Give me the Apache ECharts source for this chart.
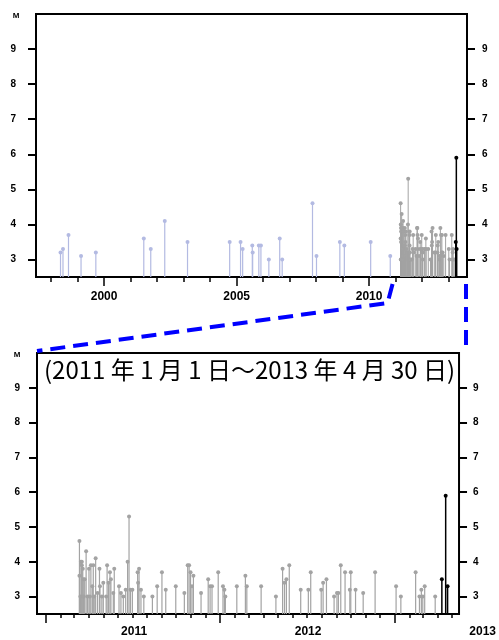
<!DOCTYPE html>
<html><head><meta charset="utf-8">
<script src="https://cdn.jsdelivr.net/npm/echarts@6/dist/echarts.min.js"></script>
<style>html,body{margin:0;padding:0;background:#fff}#c{width:499px;height:640px}</style>
</head><body><div id="c"></div>
<script>
// ---- data ----
const preDates = ['1998-05-10','1998-06-13','1998-08-28','1999-02-17','1999-09-09','2001-07-01','2001-10-05','2002-04-16','2003-02-24','2004-09-27','2005-02-24','2005-03-25','2005-08-05','2005-08-10','2005-11-03','2005-12-02','2006-03-21','2006-08-18','2006-09-21','2007-11-13','2008-01-07','2008-11-24','2009-01-25','2010-01-23','2010-10-20'];
const preMags = [3.2,3.3,3.7,3.1,3.2,3.6,3.3,4.1,3.5,3.5,3.5,3.3,3.4,3.2,3.4,3.4,3.0,3.6,3.0,4.6,3.1,3.5,3.4,3.5,3.1];

const recentDates = ['2011-03-12','2011-03-12','2011-03-14','2011-03-15','2011-03-17','2011-03-17','2011-03-19','2011-03-20','2011-03-21','2011-03-23','2011-03-26','2011-03-29','2011-04-01','2011-04-03','2011-04-05','2011-04-08','2011-04-10','2011-04-12','2011-04-15','2011-04-19','2011-04-23','2011-04-24','2011-04-28','2011-05-01','2011-05-07','2011-05-09','2011-05-12','2011-05-15','2011-05-17','2011-05-22','2011-05-24','2011-06-03','2011-06-07','2011-06-12','2011-06-17','2011-06-21','2011-06-24','2011-06-27','2011-07-01','2011-07-12','2011-07-13','2011-07-15','2011-07-19','2011-07-25','2011-08-12','2011-08-22','2011-09-01','2011-09-09','2011-09-30','2011-10-18','2011-10-25','2011-10-28','2011-10-31','2011-11-03','2011-11-06','2011-11-22','2011-12-07','2011-12-11','2011-12-15','2011-12-28','2012-01-07','2012-01-10','2012-01-12','2012-02-05','2012-02-23','2012-02-26','2012-03-27','2012-04-27','2012-05-11','2012-05-15','2012-05-19','2012-05-25','2012-06-18','2012-07-04','2012-07-09','2012-07-31','2012-08-04','2012-08-11','2012-08-27','2012-09-02','2012-09-05','2012-09-10','2012-09-19','2012-09-29','2012-10-01','2012-10-11','2012-10-27','2012-11-21','2013-01-04','2013-01-14','2013-02-14','2013-02-22','2013-02-26','2013-03-01','2013-03-05','2013-03-27','2013-04-10','2013-04-18','2013-04-22'];
const recentMags = [4.6,3.6,3.0,4.0,4.0,3.9,3.8,3.5,3.0,3.5,4.3,3.0,3.8,3.0,3.9,3.3,3.9,3.0,4.1,3.1,3.8,3.3,3.0,3.4,3.0,3.9,3.4,3.7,3.5,3.1,3.8,3.3,3.1,3.0,3.2,4.0,5.3,3.2,3.2,3.7,3.4,3.8,3.2,3.0,3.0,3.3,3.7,3.2,3.3,3.1,3.9,3.9,3.7,3.3,3.6,3.1,3.5,3.3,3.3,3.7,3.3,3.2,3.0,3.3,3.6,3.3,3.3,3.0,3.8,3.4,3.5,3.9,3.2,3.2,3.7,3.2,3.4,3.5,3.0,3.1,3.1,3.9,3.7,3.2,3.7,3.2,3.1,3.7,3.3,3.0,3.7,3.0,3.2,3.0,3.3,3.0,3.5,5.9,3.3];

const lastMonthStart = '2013-04-01';
const topRange = ['1997-06-06', '2013-09-12'];
const bottomRange = ['2010-12-13', '2013-05-16'];
const topTickYears = [1998,1999,2000,2001,2002,2003,2004,2005,2006,2007,2008,2009,2010,2011,2012,2013];
const topLabelYears = [2000, 2005, 2010];
const bottomYears = [2011, 2012, 2013];
const magTicks = [3,4,5,6,7,8,9];
const magRange = [2.5, 10];
const titleText = '(2011 年 1 月 1 日～2013 年 4 月 30 日)';

// ---- helpers ----
const ts = s => { const p = s.split('-').map(Number); return +new Date(p[0], p[1]-1, p[2]); };
const yearTs = y => +new Date(y, 0, 1);
const monthTicks = [];
for (let y = 2011; y <= 2013; y++) for (let m = 0; m < 12; m++) {
  const t = +new Date(y, m, 1);
  if (t <= ts(bottomRange[1])) monthTicks.push(t);
}
const pre = preDates.map((d,i) => [ts(d), preMags[i]]);
const recent = recentDates.map((d,i) => [ts(d), recentMags[i]]);
const cut = ts(lastMonthStart);
const recentGray = recent.filter(p => p[0] < cut);
const recentBlack = recent.filter(p => p[0] >= cut);

const BLUE = '#b3bae2', GRAY = '#a3a3a3', BLACK = '#000';
function stem(color, lw, r) {
  return function (params, api) {
    const t = api.value(0), v = api.value(1);
    const top = api.coord([t, v]);
    const base = api.coord([t, magRange[0]]);
    return { type: 'group', children: [
      { type: 'line', shape: { x1: top[0], y1: base[1], x2: top[0], y2: top[1] }, style: { stroke: color, lineWidth: lw } },
      { type: 'circle', shape: { cx: top[0], cy: top[1], r: r }, style: { fill: color } }
    ]};
  };
}
function series(data, xi, yi, color, lw, r, z) {
  return { type: 'custom', xAxisIndex: xi, yAxisIndex: yi, data: data, renderItem: stem(color, lw, r),
    clip: true, silent: true, z: z, encode: { x: 0, y: 1 } };
}

const FONT = 'Liberation Sans';
function yAxis(grid, pos, margin, withName) {
  const a = {
    type: 'value', gridIndex: grid, position: pos, min: magRange[0], max: magRange[1],
    splitLine: { show: false }, axisLine: { show: false },
    axisTick: { show: true, length: 8, customValues: magTicks, lineStyle: { color: '#000', width: 2 } },
    axisLabel: { customValues: magTicks, margin: margin, color: '#000', fontFamily: FONT, fontWeight: 'bold', fontSize: 10 }
  };
  if (withName) {
    a.name = 'M'; a.nameLocation = 'end'; a.nameGap = -6;
    a.nameTextStyle = { color: '#000', fontFamily: FONT, fontWeight: 'bold', fontSize: 8, padding: [0, 40, 0, 0] };
  }
  return a;
}
function xAxis(grid, range, tickVals, tickLen, labelVals, margin, pad) {
  return {
    type: 'value', gridIndex: grid, min: ts(range[0]), max: ts(range[1]), position: 'bottom',
    splitLine: { show: false }, axisLine: { show: false },
    axisTick: { show: true, length: tickLen, customValues: tickVals, lineStyle: { color: '#000', width: 1.5 } },
    axisLabel: labelVals ? { customValues: labelVals, formatter: v => String(new Date(v).getFullYear()),
      margin: margin, color: '#000', fontFamily: FONT, fontWeight: 'bold', fontSize: 12, padding: pad || 0 } : { show: false }
  };
}

const chart = echarts.init(document.getElementById('c'), null, { renderer: 'canvas' });
const option = {
  animation: false,
  backgroundColor: '#fff',
  title: { text: titleText, left: 44, top: 358, padding: 0,
    textStyle: { fontFamily: 'Noto Sans CJK JP', fontWeight: 'normal', fontSize: 24, color: '#000' } },
  grid: [
    { left: 36, top: 14, width: 431, height: 263, show: true, borderColor: '#000', borderWidth: 2 },
    { left: 37, top: 353, width: 426, height: 261, show: true, borderColor: '#000', borderWidth: 2 }
  ],
  xAxis: [
    xAxis(0, topRange, topTickYears.map(yearTs), 5, null),
    xAxis(0, topRange, topLabelYears.map(yearTs), 9, topLabelYears.map(yearTs), 14),
    xAxis(1, bottomRange, monthTicks, 4, null),
    xAxis(1, bottomRange, bottomYears.map(yearTs), 9, bottomYears.map(yearTs), 12, [0, 0, 0, 176])
  ],
  yAxis: [
    yAxis(0, 'left', 20, true),
    yAxis(0, 'right', 15, false),
    yAxis(1, 'left', 17, true),
    yAxis(1, 'right', 14, false)
  ],
  series: [
    series(pre, 0, 0, BLUE, 1.2, 2, 2),
    series(recentGray, 0, 0, GRAY, 1, 2, 2),
    series(recentBlack, 0, 0, BLACK, 1.5, 2, 3),
    series(recentGray, 2, 2, GRAY, 1.2, 2, 2),
    series(recentBlack, 2, 2, BLACK, 1.5, 2, 3)
  ]
};
chart.setOption(option);

// zoom connectors, placed from the axes' own scales
const x2011 = chart.convertToPixel({ xAxisIndex: 0 }, yearTs(2011));
const topBottomY = chart.convertToPixel({ yAxisIndex: 0 }, magRange[0]);
const topRightX = chart.convertToPixel({ xAxisIndex: 0 }, ts(topRange[1]));
const botLeftX = chart.convertToPixel({ xAxisIndex: 2 }, ts(bottomRange[0]));
const botTopY = chart.convertToPixel({ yAxisIndex: 2 }, magRange[1]);
const dash = { stroke: '#0000ff', lineWidth: 4, lineDash: [15, 8], fill: null };
chart.setOption({ graphic: [
  { type: 'polyline', z: 100, shape: { points: [[x2011 - 3, topBottomY + 7], [x2011 - 8, topBottomY + 26], [botLeftX, botTopY - 2]] }, style: dash },
  { type: 'polyline', z: 100, shape: { points: [[topRightX - 1, topBottomY + 7], [topRightX - 1, botTopY - 2]] }, style: dash }
]});
</script>
</body></html>
